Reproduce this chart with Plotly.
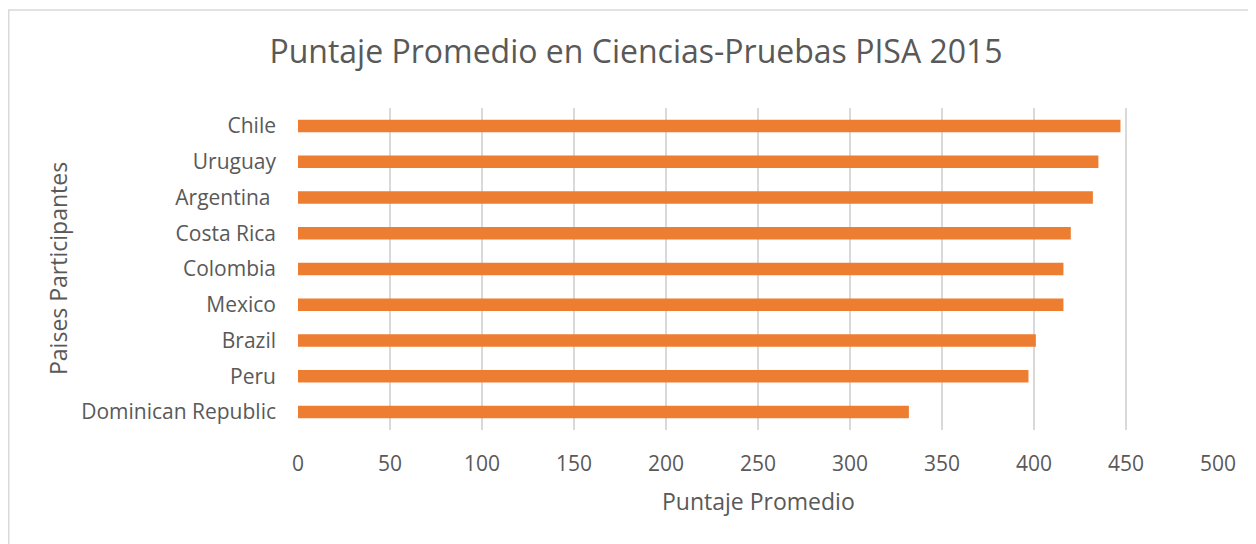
import plotly.graph_objects as go

countries = ["Chile", "Uruguay", "Argentina ", "Costa Rica", "Colombia", "Mexico",
             "Brazil", "Peru", "Dominican Republic"]
scores = [447, 435, 432, 420, 416, 416, 401, 397, 332]
x_ticks = [0, 50, 100, 150, 200, 250, 300, 350, 400, 450, 500]

title_text = "Puntaje Promedio en Ciencias-Pruebas PISA 2015"
x_title = "Puntaje Promedio"
y_title = "Paises Participantes"

FONT = "Open Sans"
GREY = "#595959"

# page body has an 8px margin, so the figure is drawn at (8, 8)
W, H = 1248, 536
L, R, T, B = 290, 38, 100, 114
PW = W - L - R
PH = H - T - B

fig = go.Figure(go.Bar(
    x=scores, y=countries, orientation="h",
    marker=dict(color="#ED7D31", line=dict(width=0)),
    hoverinfo="x+y",
))

fig.update_layout(
    width=W, height=H,
    margin=dict(l=L, r=R, t=T, b=B),
    paper_bgcolor="white", plot_bgcolor="white",
    bargap=0.65,
    showlegend=False,
    font=dict(family=FONT, color=GREY),
    title=dict(text=title_text, x=628 / W, xanchor="center",
               y=1 - 44 / H, yanchor="middle",
               font=dict(family=FONT, size=32, color=GREY)),
    xaxis=dict(range=[0, 500], tickvals=x_ticks, showgrid=True,
               gridcolor="#d9d9d9", gridwidth=1.5, zeroline=False,
               showline=False, ticks="", ticklabelstandoff=19,
               tickfont=dict(family=FONT, size=21, color=GREY)),
    yaxis=dict(categoryorder="array", categoryarray=countries[::-1],
               showgrid=False, zeroline=False, showline=False, ticks="",
               ticklabelstandoff=21,
               tickfont=dict(family=FONT, size=21, color=GREY)),
    annotations=[
        dict(text=x_title, xref="paper", yref="paper", x=0.5, y=-71 / PH,
             xanchor="center", yanchor="middle", showarrow=False,
             font=dict(family=FONT, size=23, color=GREY)),
        dict(text=y_title, xref="paper", yref="paper", x=-240 / PW, y=0.5,
             xanchor="center", yanchor="middle", showarrow=False, textangle=-90,
             font=dict(family=FONT, size=23, color=GREY)),
    ],
    shapes=[
        dict(type="rect", xref="paper", yref="paper",
             x0=(0.75 - L) / PW, x1=(W + 20 - L) / PW,
             y0=-(B + 20) / PH, y1=(PH + T - 2) / PH,
             line=dict(color="#d9d9d9", width=1.5), fillcolor="rgba(0,0,0,0)",
             layer="below"),
    ],
)

fig.write_html("out.html")
